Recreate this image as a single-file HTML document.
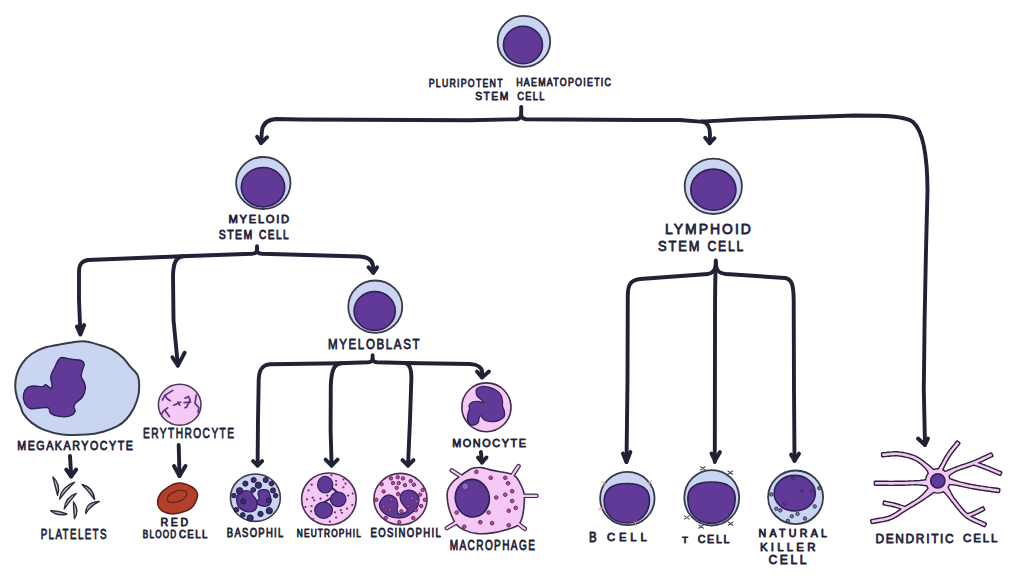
<!DOCTYPE html>
<html><head><meta charset="utf-8"><style>
html,body{margin:0;padding:0;background:#fff;width:1024px;height:576px;overflow:hidden}
svg{display:block}
</style></head><body>
<svg width="1024" height="576" viewBox="0 0 1024 576">
<rect width="1024" height="576" fill="#fff"/>
<path d="M521.2,107 L521.2,114.5 C521.2,117.5 520,118.8 516.5,119.2 L470,120.3 L300,119.5 L276,119 C267,119.5 262.5,124 261.8,132 L261.1,143" fill="none" stroke="#202236" stroke-width="3.9" stroke-linecap="round" stroke-linejoin="round"/>
<path d="M257.1,136.7 L261.1,143.2 L267.1,137.2" fill="none" stroke="#202236" stroke-width="3.9" stroke-linecap="round" stroke-linejoin="round"/>
<path d="M521.2,114.5 C521.2,117.5 522.5,118.8 526,119.2 L640,120 L680,120 L700,121.6 L720,120.6 L740,119.5 L780,118 L855,115.5 C885,115.5 905,116 913,122 C923,131 927.3,155 927.5,190 L926,250 L924.6,320 L923.8,390 L925,445" fill="none" stroke="#202236" stroke-width="3.9" stroke-linecap="round" stroke-linejoin="round"/>
<path d="M702,121.5 C707.5,122.5 710,127 710,134 L709.7,143.2" fill="none" stroke="#202236" stroke-width="3.9" stroke-linecap="round" stroke-linejoin="round"/>
<path d="M705.2,137.7 L709.7,143.2 L714.5,138.2" fill="none" stroke="#202236" stroke-width="3.9" stroke-linecap="round" stroke-linejoin="round"/>
<path d="M918.0,438.5 L925.0,445.0 L928.0,438.5" fill="none" stroke="#202236" stroke-width="3.9" stroke-linecap="round" stroke-linejoin="round"/>
<path d="M257,246.3 L257,250 C257,252.5 255.5,253.5 252,253.8 L182,256.3 L88,260 C81.5,261 79,264.5 79,272 L79,300 L80.4,334" fill="none" stroke="#202236" stroke-width="3.9" stroke-linecap="round" stroke-linejoin="round"/>
<path d="M76.9,326.5 L80.4,334.5 L84.2,325.0" fill="none" stroke="#202236" stroke-width="3.9" stroke-linecap="round" stroke-linejoin="round"/>
<path d="M183,256.2 C176.5,257 173.5,262 173,275 L173.5,320 L177.9,365.5" fill="none" stroke="#202236" stroke-width="3.9" stroke-linecap="round" stroke-linejoin="round"/>
<path d="M172.4,357.2 L177.9,365.7 L184.7,352.7" fill="none" stroke="#202236" stroke-width="3.9" stroke-linecap="round" stroke-linejoin="round"/>
<path d="M257,250 C257,252.5 258.5,253.5 262,253.8 L360,256.5 C369,257 372.5,261 373,266 L373.3,272.8" fill="none" stroke="#202236" stroke-width="3.9" stroke-linecap="round" stroke-linejoin="round"/>
<path d="M368.5,267.3 L373.3,272.8 L377.1,267.3" fill="none" stroke="#202236" stroke-width="3.9" stroke-linecap="round" stroke-linejoin="round"/>
<path d="M372.6,355.3 L372.6,358.5 C372.6,361 371.5,362 368,362.3 L340,363.3 L270,364.3 C262,365 259,370 258.7,380 L258,420 L257.6,465.6" fill="none" stroke="#202236" stroke-width="3.9" stroke-linecap="round" stroke-linejoin="round"/>
<path d="M253.1,461.1 L257.6,465.6 L262.1,461.1" fill="none" stroke="#202236" stroke-width="3.9" stroke-linecap="round" stroke-linejoin="round"/>
<path d="M341,363.3 C334,364.3 331.5,370 330.8,385 L330.6,430 L331.6,465.6" fill="none" stroke="#202236" stroke-width="3.9" stroke-linecap="round" stroke-linejoin="round"/>
<path d="M325.6,459.6 L331.6,465.6 L337.6,459.6" fill="none" stroke="#202236" stroke-width="3.9" stroke-linecap="round" stroke-linejoin="round"/>
<path d="M372.6,358.5 C372.6,361 373.7,362 377,362.3 L405,363 L470,364 C478,364.5 482,368 482.1,372 L482,377.5" fill="none" stroke="#202236" stroke-width="3.9" stroke-linecap="round" stroke-linejoin="round"/>
<path d="M477.0,371.5 L482.0,377.5 L489.0,371.5" fill="none" stroke="#202236" stroke-width="3.9" stroke-linecap="round" stroke-linejoin="round"/>
<path d="M405,363 C409.5,363.5 411.3,368 411.4,378 L410,420 L408,465.6" fill="none" stroke="#202236" stroke-width="3.9" stroke-linecap="round" stroke-linejoin="round"/>
<path d="M402.5,460.1 L408.0,465.6 L413.5,460.1" fill="none" stroke="#202236" stroke-width="3.9" stroke-linecap="round" stroke-linejoin="round"/>
<path d="M715.8,260.5 C716,268 715,272 708,274 L640,279 C631,280 628,284 627.8,295 L627.5,380 L626.5,462" fill="none" stroke="#202236" stroke-width="3.9" stroke-linecap="round" stroke-linejoin="round"/>
<path d="M622.9,453.5 L626.4,462.0 L630.4,452.0" fill="none" stroke="#202236" stroke-width="3.9" stroke-linecap="round" stroke-linejoin="round"/>
<path d="M715.8,266 C715,275 715,290 715,330 L714.8,462" fill="none" stroke="#202236" stroke-width="3.9" stroke-linecap="round" stroke-linejoin="round"/>
<path d="M711.5,453.6 L715.0,460.6 L720.0,452.1" fill="none" stroke="#202236" stroke-width="3.9" stroke-linecap="round" stroke-linejoin="round"/>
<path d="M715.8,262 C716,270 718,273 726,274 L785,278 C792,279 793.5,285 793.7,300 L794,390 L794.5,461" fill="none" stroke="#202236" stroke-width="3.9" stroke-linecap="round" stroke-linejoin="round"/>
<path d="M791.0,454.6 L794.5,460.6 L799.0,453.6" fill="none" stroke="#202236" stroke-width="3.9" stroke-linecap="round" stroke-linejoin="round"/>
<path d="M70,456 L71.2,476.5" fill="none" stroke="#202236" stroke-width="3.9" stroke-linecap="round" stroke-linejoin="round"/>
<path d="M66.2,469.5 L71.2,476.5 L76.2,469.5" fill="none" stroke="#202236" stroke-width="3.9" stroke-linecap="round" stroke-linejoin="round"/>
<path d="M178.7,445 L179.5,476" fill="none" stroke="#202236" stroke-width="3.9" stroke-linecap="round" stroke-linejoin="round"/>
<path d="M174.0,466.0 L179.5,476.0 L185.5,466.0" fill="none" stroke="#202236" stroke-width="3.9" stroke-linecap="round" stroke-linejoin="round"/>
<path d="M480.9,452 L482,462.5" fill="none" stroke="#202236" stroke-width="3.9" stroke-linecap="round" stroke-linejoin="round"/>
<path d="M478.0,457.5 L482.0,462.5 L486.5,457.5" fill="none" stroke="#202236" stroke-width="3.9" stroke-linecap="round" stroke-linejoin="round"/>
<ellipse cx="523.9" cy="41.4" rx="26.30" ry="25.50" fill="#cad6f1" stroke="#383a4a" stroke-width="1.8"/>
<ellipse cx="523" cy="45" rx="19.50" ry="18.70" fill="#613a97" stroke="#2e2058" stroke-width="1.6"/>
<ellipse cx="263.3" cy="183" rx="27.20" ry="26.00" fill="#cad6f1" stroke="#383a4a" stroke-width="1.8"/>
<ellipse cx="263" cy="187.2" rx="21.70" ry="19.70" fill="#613a97" stroke="#2e2058" stroke-width="1.6"/>
<ellipse cx="713.3" cy="186.3" rx="28.60" ry="27.70" fill="#cad6f1" stroke="#383a4a" stroke-width="1.8"/>
<ellipse cx="713.4" cy="189.7" rx="22.60" ry="20.60" fill="#613a97" stroke="#2e2058" stroke-width="1.6"/>
<ellipse cx="375.25" cy="306.7" rx="27.00" ry="26.20" fill="#cad6f1" stroke="#383a4a" stroke-width="1.8"/>
<ellipse cx="374.7" cy="311" rx="20.60" ry="19.40" fill="#613a97" stroke="#2e2058" stroke-width="1.6"/>
<ellipse cx="627.35" cy="498.55" rx="27.25" ry="26.65" fill="#cad6f1" stroke="#383a4a" stroke-width="1.8"/>
<path d="M604.2,500 C604.5,489 612,483.5 627,483.5 C642,483.5 649.5,489 649.5,500 C649.5,514 640,523 627,523 C613,523 604,514 604.2,500Z" fill="#613a97" stroke="#2e2058" stroke-width="1.6"/>
<ellipse cx="711.75" cy="497.85" rx="27.45" ry="27.75" fill="#cad6f1" stroke="#383a4a" stroke-width="1.8"/>
<path d="M687.8,498 C688,487 697,482 711.5,482 C726,482 735,487 735.2,498 C735.4,514 725,523.4 711.5,523.4 C698,523.4 687.6,514 687.8,498Z" fill="#613a97" stroke="#2e2058" stroke-width="1.6"/>
<ellipse cx="795.6" cy="497.3" rx="27.50" ry="26.80" fill="#cad6f1" stroke="#383a4a" stroke-width="1.8"/>
<ellipse cx="794.7" cy="493.2" rx="20.60" ry="17.80" fill="#613a97" stroke="#2e2058" stroke-width="1.6"/>
<g stroke="#d98a78" stroke-width="0.9" fill="none" stroke-linecap="round">
<path d="M0,0 L3,0 M3,0 L5,-1.5 M3,0 L5,1.5" transform="translate(601.7,481.1) rotate(45)"/>
<path d="M0,0 L3,0 M3,0 L5,-1.5 M3,0 L5,1.5" transform="translate(651.8,480) rotate(135)"/>
<path d="M0,0 L3,0 M3,0 L5,-1.5 M3,0 L5,1.5" transform="translate(598.7,509.4) rotate(340)"/>
<path d="M0,0 L3,0 M3,0 L5,-1.5 M3,0 L5,1.5" transform="translate(635.9,526) rotate(260)"/>
</g>
<g stroke="#4a4a56" stroke-width="1.1" fill="none" stroke-linecap="round">
<path d="M700.6,466.79999999999995 L705.1999999999999,470.0 M700.6,470.0 L705.1999999999999,466.79999999999995"/>
<path d="M727.95,471.0 L732.55,474.20000000000005 M727.95,474.20000000000005 L732.55,471.0"/>
<path d="M684.5,515.9 L689.0999999999999,519.1 M684.5,519.1 L689.0999999999999,515.9"/>
<path d="M698.8000000000001,525.0 L703.4,528.2 M698.8000000000001,528.2 L703.4,525.0"/>
<path d="M728.3000000000001,522.0 L732.9,525.2 M728.3000000000001,525.2 L732.9,522.0"/>
</g>
<g fill="#7880a6" stroke="#33334f" stroke-width="1">
<circle cx="771.2" cy="494.4" r="1.7"/>
<circle cx="819.3" cy="488.1" r="1.7"/>
<circle cx="814.75" cy="506.4" r="1.7"/>
<circle cx="776.3" cy="508.7" r="1.7"/>
<circle cx="780.3" cy="510.4" r="1.7"/>
<circle cx="791.8" cy="516.2" r="1.7"/>
<circle cx="797.55" cy="513.9" r="1.7"/>
<circle cx="805" cy="518.5" r="1.7"/>
<circle cx="787.8" cy="520.8" r="1.7"/>
</g>
<g fill="none" stroke="#3a2266" stroke-width="0.9">
<circle cx="793" cy="477.8" r="1.6"/>
<circle cx="802.1" cy="491" r="1.6"/>
<circle cx="811.9" cy="491" r="1.6"/>
<circle cx="784.9" cy="503.6" r="1.6"/>
</g>
<path d="M83.0,341.3 C89.2,341.4 94.7,343.6 99.5,345.0 C104.3,346.4 108.2,347.4 112.1,349.5 C116.0,351.6 120.0,354.8 123.0,357.7 C126.0,360.6 127.8,363.8 130.2,366.7 C132.6,369.6 135.9,371.8 137.4,374.8 C138.9,377.8 139.0,381.2 139.2,384.7 C139.3,388.2 139.2,391.7 138.3,395.6 C137.4,399.5 135.8,404.3 133.8,408.2 C131.8,412.1 129.2,416.0 126.5,419.0 C123.8,422.0 121.4,424.1 117.5,426.2 C113.6,428.3 108.2,430.3 103.1,431.7 C98.0,433.1 93.6,434.2 86.8,434.6 C80.0,435.1 69.3,435.2 62.2,434.4 C55.1,433.6 49.2,431.9 44.1,429.9 C39.0,427.9 35.0,425.3 31.5,422.6 C28.0,419.9 25.1,416.3 23.3,413.6 C21.5,410.9 21.7,409.1 20.6,406.4 C19.6,403.7 17.9,400.7 17.0,397.4 C16.1,394.1 15.2,390.4 15.2,386.5 C15.2,382.6 15.8,377.8 17.0,373.9 C18.2,370.0 20.0,366.4 22.4,363.1 C24.8,359.8 27.9,356.6 31.5,354.0 C35.1,351.4 39.0,349.3 44.1,347.7 C49.2,346.1 55.7,345.2 62.2,344.1 C68.7,343.0 76.8,341.2 83.0,341.3Z" fill="#cad6f1" stroke="#383a4a" stroke-width="2"/>
<path d="M61.7,357.5 C63.9,357.3 68.2,358.8 71.5,359.3 C74.8,359.8 79.1,359.7 81.2,360.5 C83.3,361.3 84.0,362.6 84.2,364.2 C84.4,365.8 82.9,368.2 82.4,370.2 C81.9,372.2 80.9,374.3 81.2,376.3 C81.5,378.3 83.5,380.4 84.2,382.4 C84.9,384.4 85.7,386.1 85.4,388.5 C85.1,390.9 84.0,394.6 82.4,397.0 C80.8,399.4 77.1,401.4 75.7,403.0 C74.3,404.6 74.0,405.3 73.9,406.7 C73.8,408.1 75.7,410.0 75.1,411.5 C74.5,413.0 72.8,415.0 70.2,415.8 C67.6,416.6 62.5,416.8 59.3,416.4 C56.1,416.0 52.6,414.8 50.8,413.4 C49.0,412.0 50.0,408.8 48.4,407.9 C46.8,407.0 44.1,407.8 41.1,407.9 C38.1,408.0 32.9,409.3 30.2,408.5 C27.5,407.7 25.8,405.3 24.7,403.0 C23.6,400.7 23.1,397.0 23.5,394.5 C23.9,392.0 25.4,389.2 27.1,387.8 C28.8,386.4 31.3,386.2 33.8,386.0 C36.3,385.8 40.3,386.8 42.3,386.6 C44.3,386.4 44.5,384.5 45.9,384.8 C47.3,385.1 49.8,388.5 50.8,388.5 C51.8,388.5 52.0,386.8 52.0,384.8 C52.0,382.8 50.4,379.1 50.8,376.3 C51.2,373.5 53.3,370.4 54.5,367.8 C55.7,365.2 56.9,362.2 58.1,360.5 C59.3,358.8 59.5,357.7 61.7,357.5Z" fill="#613a97" stroke="#2e2058" stroke-width="1.4"/>
<ellipse cx="179.7" cy="404.8" rx="21.30" ry="20.50" fill="#f6c9f7" stroke="#4a3550" stroke-width="1.5"/>
<path d="M172.8,390.4 L165.0,395.2 L162.4,400.0" fill="none" stroke="#5e3384" stroke-width="1.7" stroke-linecap="round" stroke-linejoin="round"/>
<path d="M165.0,395.2 L167.2,398.7 L170.2,400.8" fill="none" stroke="#5e3384" stroke-width="1.7" stroke-linecap="round" stroke-linejoin="round"/>
<path d="M173.7,405.2 L178.0,403.4 L180.6,402.1" fill="none" stroke="#5e3384" stroke-width="1.7" stroke-linecap="round" stroke-linejoin="round"/>
<path d="M178.0,402.1 L179.8,405.2" fill="none" stroke="#5e3384" stroke-width="1.7" stroke-linecap="round" stroke-linejoin="round"/>
<path d="M185.0,398.2 L188.5,396.5 L190.2,400.0 L186.7,406.9 L185.0,407.8" fill="none" stroke="#5e3384" stroke-width="1.7" stroke-linecap="round" stroke-linejoin="round"/>
<path d="M184.1,402.6 L190.6,402.1" fill="none" stroke="#5e3384" stroke-width="1.7" stroke-linecap="round" stroke-linejoin="round"/>
<path d="M196.3,394.8 L195.0,403.4 L198.9,407.8 L198.0,412.1" fill="none" stroke="#5e3384" stroke-width="1.7" stroke-linecap="round" stroke-linejoin="round"/>
<path d="M167.6,407.8 L163.3,411.2 L161.5,414.7" fill="none" stroke="#5e3384" stroke-width="1.7" stroke-linecap="round" stroke-linejoin="round"/>
<path d="M165.0,410.4 L167.6,413.9 L169.4,416.5" fill="none" stroke="#5e3384" stroke-width="1.7" stroke-linecap="round" stroke-linejoin="round"/>
<g fill="#b9bdd2" stroke="#2c2c3a" stroke-width="1.4" stroke-linejoin="round">
<path d="M52.9,477 Q60.8,483.9 57.6,495.3 Q55.2,486.2 52.9,477Z"/>
<path d="M59.5,499 Q61.4,486.9 74.5,482.2 Q66.4,490.2 59.5,499Z"/>
<path d="M82,484.5 Q93.5,487.4 94.6,499.5 Q89.0,491.4 82,484.5Z"/>
<path d="M64.2,508.9 Q65.6,496.9 76.3,493.4 Q70.0,500.9 64.2,508.9Z"/>
<path d="M73.5,501.9 Q79.6,510.3 74.5,518.75 Q73.6,510.3 73.5,501.9Z"/>
<path d="M50.6,510.8 Q57.4,516.6 67,514 Q59.3,510.9 50.6,510.8Z"/>
<path d="M85.7,513.6 Q85.5,501.9 99.3,501.4 Q90.2,505.6 85.7,513.6Z"/>
</g>
<path d="M182.1,483.3 C185.1,483.8 189.4,485.3 192.0,487.0 C194.6,488.7 196.7,491.3 197.4,493.6 C198.1,495.9 197.0,498.6 196.0,501.0 C195.0,503.4 193.8,506.2 191.2,508.1 C188.8,510.0 184.4,511.6 181.0,512.5 C177.6,513.5 173.9,514.2 170.6,513.8 C167.3,513.4 163.2,512.0 161.0,510.0 C158.8,508.0 157.6,504.8 157.6,502.0 C157.6,499.2 159.3,495.4 161.0,493.0 C162.7,490.6 165.4,489.0 167.6,487.5 C169.8,486.0 171.6,484.7 174.0,484.0 C176.4,483.3 179.1,482.8 182.1,483.3Z" fill="#b3402b" stroke="#5e2014" stroke-width="1.5"/>
<ellipse cx="177.1" cy="496.4" rx="10.3" ry="5.4" transform="rotate(-20 177.1 496.4)" fill="none" stroke="#6a2418" stroke-width="1.3"/>
<ellipse cx="255.4" cy="497.7" rx="24.90" ry="23.70" fill="#cad6f1" stroke="#383a4a" stroke-width="1.6"/>
<path d="M237.0,496.8 C237.6,495.4 238.7,493.3 240.3,492.3 C241.9,491.3 244.6,490.7 246.4,490.7 C248.2,490.7 250.3,491.5 251.4,492.3 C252.5,493.1 252.3,494.6 253.1,495.7 C253.8,496.8 255.2,497.8 255.9,499.0 C256.6,500.2 256.9,501.4 257.0,502.9 C257.1,504.4 257.0,506.5 256.4,507.9 C255.7,509.3 254.6,510.5 253.1,511.2 C251.6,511.9 249.4,512.1 247.6,511.8 C245.8,511.5 243.6,510.6 242.0,509.6 C240.4,508.6 239.0,507.2 238.1,505.7 C237.2,504.2 236.9,502.2 236.7,500.7 C236.5,499.2 236.4,498.2 237.0,496.8Z M258.7,491.2 C259.5,490.4 261.5,489.7 263.1,489.6 C264.7,489.5 266.9,489.6 268.1,490.7 C269.3,491.8 269.8,494.3 270.3,496.2 C270.8,498.1 271.3,500.2 270.9,501.8 C270.5,503.4 269.4,505.0 268.1,505.7 C266.8,506.4 264.7,506.4 263.1,506.2 C261.5,506.0 259.7,505.3 258.7,504.6 C257.7,503.9 256.9,502.8 257.0,501.8 C257.1,500.8 259.0,499.6 259.2,498.4 C259.4,497.2 258.2,495.8 258.1,494.6 C258.0,493.4 257.9,492.0 258.7,491.2Z" fill="#613a97" stroke="#2e2058" stroke-width="1.3"/>
<g fill="#3d2a72" stroke="#22183f" stroke-width="0.9">
<circle cx="253.7" cy="480" r="2.6"/>
<circle cx="245.4" cy="483.6" r="2.6"/>
<circle cx="258.4" cy="485.2" r="3.2"/>
<circle cx="265.7" cy="480" r="2.6"/>
<circle cx="271.4" cy="483.6" r="2.4"/>
<circle cx="239.6" cy="490.9" r="3.3"/>
<circle cx="253.2" cy="489.9" r="2.4"/>
<circle cx="273" cy="490.4" r="2.6"/>
<circle cx="233.9" cy="495.6" r="2.3"/>
<circle cx="275.6" cy="495.6" r="2.3"/>
<circle cx="243.3" cy="501.4" r="2.6"/>
<circle cx="268.8" cy="500.3" r="2.4"/>
<circle cx="236.5" cy="509.7" r="2.4"/>
<circle cx="242.8" cy="514.9" r="2.4"/>
<circle cx="250.1" cy="518" r="3.2"/>
<circle cx="260.5" cy="513.9" r="2.7"/>
<circle cx="269.3" cy="510.7" r="3.2"/>
</g>
<ellipse cx="328.9" cy="499" rx="27.30" ry="26.00" fill="#f6c8f6" stroke="#4a3050" stroke-width="1.6"/>
<path d="M331,487 L338,493 M331,498 L323,503" stroke="#2e2058" stroke-width="2" fill="none"/>
<g fill="#613a97" stroke="#2e2058" stroke-width="1.2"><ellipse cx="325.2" cy="484.7" rx="7.6" ry="8.3"/><ellipse cx="338.2" cy="499.3" rx="7.8" ry="7.3"/><ellipse cx="323.6" cy="510.2" rx="8.9" ry="8.1"/></g>
<g fill="#6a2f6e">
<circle cx="331.4" cy="475.3" r="1.1"/>
<circle cx="336.1" cy="481.0" r="1.1"/>
<circle cx="343.4" cy="479.5" r="1.1"/>
<circle cx="345.5" cy="483.6" r="1.1"/>
<circle cx="343.4" cy="487.3" r="1.1"/>
<circle cx="336.1" cy="484.7" r="1.1"/>
<circle cx="311.6" cy="484.7" r="1.1"/>
<circle cx="308.5" cy="490.4" r="1.1"/>
<circle cx="306.9" cy="499.3" r="1.1"/>
<circle cx="312.7" cy="497.7" r="1.1"/>
<circle cx="314.2" cy="500.3" r="1.1"/>
<circle cx="320.5" cy="498.7" r="1.1"/>
<circle cx="327.3" cy="495.6" r="1.1"/>
<circle cx="348.1" cy="495.6" r="1.1"/>
<circle cx="352.8" cy="493.5" r="1.1"/>
<circle cx="305.4" cy="507.1" r="1.1"/>
<circle cx="311.6" cy="506.0" r="1.1"/>
<circle cx="311.1" cy="511.3" r="1.1"/>
<circle cx="313.2" cy="519.1" r="1.1"/>
<circle cx="329.9" cy="521.7" r="1.1"/>
<circle cx="336.1" cy="517.5" r="1.1"/>
<circle cx="335.1" cy="512.3" r="1.1"/>
<circle cx="340.8" cy="510.2" r="1.1"/>
<circle cx="341.9" cy="512.8" r="1.1"/>
<circle cx="347.1" cy="508.7" r="1.1"/>
<circle cx="352.3" cy="505.0" r="1.1"/>
</g>
<ellipse cx="400.5" cy="499.2" rx="26.60" ry="25.80" fill="#f6c8f6" stroke="#4a3050" stroke-width="1.6"/>
<path d="M381.6,499.3 C383.1,497.5 386.5,495.1 388.8,494.9 C391.2,494.7 394.1,496.6 395.6,498.2 C397.1,499.8 397.4,502.4 397.7,504.5 C398.0,506.6 396.9,509.2 397.2,510.7 C397.4,512.3 398.1,513.5 399.3,513.9 C400.5,514.2 403.2,513.5 404.5,512.8 C405.8,512.1 407.6,511.4 407.1,509.7 C406.6,508.0 402.5,504.7 401.4,502.4 C400.2,500.1 400.0,498.0 400.3,496.1 C400.7,494.3 401.9,492.5 403.4,491.5 C405.0,490.4 407.6,489.8 409.7,490.1 C411.8,490.4 414.4,491.5 415.9,493.0 C417.5,494.5 418.9,496.8 419.1,499.3 C419.2,501.7 418.2,505.3 417.0,507.6 C415.8,509.9 413.7,511.3 411.8,512.8 C409.9,514.4 408.0,516.1 405.5,517.0 C403.1,517.9 400.0,518.2 397.2,518.0 C394.4,517.9 391.3,517.0 388.8,515.9 C386.4,514.9 384.2,513.5 382.6,511.8 C381.0,510.0 379.6,507.6 379.5,505.5 C379.3,503.4 380.0,501.0 381.6,499.3Z" fill="#613a97" stroke="#2e2058" stroke-width="1.2"/>
<g fill="#a5559a" stroke="#70265c" stroke-width="1">
<circle cx="390.9" cy="478.4" r="1.7"/>
<circle cx="397.7" cy="477.2" r="1.7"/>
<circle cx="402.9" cy="478.4" r="1.7"/>
<circle cx="381.6" cy="484.2" r="1.7"/>
<circle cx="393.0" cy="483.1" r="1.7"/>
<circle cx="398.7" cy="483.1" r="1.7"/>
<circle cx="405.0" cy="485.2" r="1.7"/>
<circle cx="410.7" cy="481.0" r="1.7"/>
<circle cx="413.9" cy="484.7" r="1.7"/>
<circle cx="396.7" cy="487.8" r="1.7"/>
<circle cx="383.6" cy="491.5" r="1.7"/>
<circle cx="398.2" cy="494.1" r="1.7"/>
<circle cx="422.7" cy="489.9" r="1.7"/>
<circle cx="420.1" cy="494.6" r="1.7"/>
<circle cx="376.3" cy="499.8" r="1.7"/>
<circle cx="424.8" cy="499.8" r="1.7"/>
<circle cx="421.2" cy="506.0" r="1.7"/>
<circle cx="415.9" cy="510.2" r="1.7"/>
<circle cx="401.4" cy="511.3" r="1.7"/>
<circle cx="385.7" cy="518.0" r="1.7"/>
<circle cx="399.3" cy="522.2" r="1.7"/>
<circle cx="413.3" cy="518.0" r="1.7"/>
<circle cx="390.9" cy="499.3" r="1.7"/>
<circle cx="383.6" cy="506.6" r="1.7"/>
<circle cx="389.9" cy="509.7" r="1.7"/>
<circle cx="411.8" cy="498.2" r="1.7"/>
<circle cx="417.0" cy="501.4" r="1.7"/>
<circle cx="408.1" cy="506.0" r="1.7"/>
</g>
<ellipse cx="486.4" cy="407.3" rx="24.6" ry="24.4" fill="#f6c8f6" stroke="#3e2e48" stroke-width="1.6"/>
<path d="M476.9,388.7 C477.8,387.8 479.6,386.7 481.7,386.5 C483.8,386.3 487.0,386.8 489.5,387.4 C492.0,388.0 494.6,389.2 496.5,390.4 C498.4,391.6 499.8,393.1 500.8,394.8 C501.8,396.5 502.2,398.9 502.5,400.8 C502.8,402.7 502.2,404.3 502.5,406.0 C502.8,407.7 504.0,409.5 504.3,411.2 C504.6,413.0 505.0,415.1 504.3,416.5 C503.6,417.9 501.6,419.0 499.9,419.9 C498.2,420.8 496.2,421.5 493.9,421.7 C491.6,421.9 487.9,421.4 486.0,420.8 C484.1,420.2 483.5,419.1 482.6,418.2 C481.7,417.3 481.4,415.6 480.8,415.6 C480.2,415.6 479.5,417.1 479.1,418.2 C478.7,419.3 479.1,421.4 478.2,422.5 C477.3,423.6 475.3,424.8 473.9,425.1 C472.4,425.4 470.6,425.3 469.5,424.3 C468.4,423.3 467.6,421.0 467.4,419.1 C467.2,417.2 467.8,414.8 468.2,413.0 C468.6,411.2 469.4,409.9 469.5,408.6 C469.6,407.3 468.7,406.3 469.1,405.2 C469.6,404.1 470.7,402.8 472.2,402.1 C473.7,401.5 476.3,401.2 478.2,401.3 C480.1,401.4 482.8,402.8 483.4,402.6 C484.0,402.4 482.7,401.0 481.7,400.0 C480.7,399.0 478.3,397.8 477.4,396.5 C476.5,395.2 476.2,393.5 476.1,392.2 C476.0,390.9 476.0,389.6 476.9,388.7Z" fill="#613a97" stroke="#2e2058" stroke-width="1.2"/>
<path d="M463.6,478.1 L451.8,470.4 M511.5,476.7 L518.5,466.2 M521.2,495.8 L536.5,495.8 M515.7,521.8 L524.7,528.8 M457.4,521.8 L446.9,528.1 " stroke="#3e2e48" stroke-width="4.6" stroke-linecap="round" fill="none"/>
<path d="M459.4,476.7 C462.7,474.4 468.2,470.1 471.9,468.6 C475.6,467.1 478.2,467.3 481.7,467.6 C485.1,467.9 488.1,469.4 492.8,470.4 C497.4,471.4 505.6,472.6 509.4,473.6 C513.3,474.7 513.8,474.9 515.7,476.7 C517.5,478.4 519.2,481.5 520.6,484.3 C521.9,487.1 523.4,489.7 524.0,493.3 C524.6,496.9 524.4,501.7 524.0,505.8 C523.7,510.0 523.0,515.1 521.9,518.3 C520.9,521.6 520.6,523.3 517.8,525.3 C515.0,527.2 509.4,528.9 505.3,530.1 C501.1,531.4 497.4,532.3 492.8,532.9 C488.1,533.5 482.2,534.1 477.5,533.6 C472.8,533.1 467.9,531.8 464.3,530.1 C460.7,528.5 458.3,526.8 456.0,523.9 C453.7,521.0 451.8,516.5 450.4,512.8 C449.0,509.1 448.1,505.4 447.6,501.7 C447.2,498.0 446.8,493.8 447.6,490.6 C448.4,487.3 450.5,484.5 452.5,482.2 C454.5,479.9 456.2,478.9 459.4,476.7Z" fill="#f6c8f6" stroke="#3e2e48" stroke-width="1.6"/>
<path d="M463.6,478.1 L451.8,470.4 M511.5,476.7 L518.5,466.2 M521.2,495.8 L536.5,495.8 M515.7,521.8 L524.7,528.8 M457.4,521.8 L446.9,528.1 " stroke="#f6c8f6" stroke-width="2.2" stroke-linecap="round" fill="none"/>
<ellipse cx="472.3" cy="498.2" rx="17" ry="18.8" fill="#613a97" stroke="#2e2058" stroke-width="1.6" transform="rotate(-8 472.3 498.2)"/>
<circle cx="465.3" cy="486.4" r="1.9" fill="#7b55a8" stroke="#c9a8e0" stroke-width="0.7"/>
<g fill="#a5559a" stroke="#70265c" stroke-width="1">
<circle cx="476.4" cy="471.8" r="1.8"/>
<circle cx="490.7" cy="477.8" r="1.8"/>
<circle cx="505.3" cy="477.8" r="1.8"/>
<circle cx="508.1" cy="483.3" r="1.8"/>
<circle cx="512.2" cy="491.25" r="1.8"/>
<circle cx="505.3" cy="494.7" r="1.8"/>
<circle cx="496.25" cy="497.5" r="1.8"/>
<circle cx="512.2" cy="501" r="1.8"/>
<circle cx="515.7" cy="507.9" r="1.8"/>
<circle cx="508.75" cy="510.7" r="1.8"/>
<circle cx="488.6" cy="512.5" r="1.8"/>
<circle cx="456.7" cy="512.5" r="1.8"/>
<circle cx="480.3" cy="522.2" r="1.8"/>
<circle cx="492.1" cy="523.2" r="1.8"/>
<circle cx="508.75" cy="525.3" r="1.8"/>
<circle cx="464.3" cy="526.7" r="1.8"/>
</g>
<path d="M942.3,477.7 L941.5,477.1 L940.7,476.5 L939.9,475.9 L939.1,475.3 L938.3,474.6 L937.5,474.0 L936.7,473.3 L936.0,472.7 L935.3,472.1 L934.6,471.5 L933.9,470.9 L933.3,470.3 L932.8,469.8 L932.3,469.4 L931.9,469.0 L931.5,468.6 L931.1,468.2 L930.7,467.7 L930.3,467.3 L929.8,466.9 L929.3,466.5 L928.7,466.0 L928.1,465.5 L927.4,465.0 L926.6,464.4 L925.8,463.8 L925.0,463.2 L924.1,462.5 L923.1,461.7 L922.2,461.0 L921.2,460.2 L920.1,459.5 L919.0,458.7 L917.9,458.1 L916.7,457.4 L915.5,456.8 L914.2,456.3 L913.0,455.8 L911.6,455.4 L910.2,454.9 L908.8,454.5 L907.4,454.2 L906.0,453.8 L904.5,453.5 L903.0,453.2 L901.6,453.0 L900.2,452.8 L898.8,452.7 L897.3,452.5 L895.9,452.5 L894.5,452.5 L893.1,452.6 L891.7,452.6 L890.4,452.8 L889.0,452.9 L887.6,453.0 L886.3,453.2 L884.9,453.3 L883.6,453.4 L882.2,453.5 L882.4,456.1 L883.8,456.0 L885.1,455.9 L886.5,455.7 L887.9,455.6 L889.2,455.5 L890.6,455.3 L891.9,455.2 L893.3,455.2 L894.6,455.1 L895.9,455.1 L897.2,455.1 L898.5,455.2 L899.8,455.4 L901.2,455.6 L902.6,455.8 L904.0,456.1 L905.4,456.4 L906.8,456.7 L908.2,457.0 L909.5,457.4 L910.8,457.8 L912.1,458.3 L913.3,458.7 L914.4,459.2 L915.5,459.7 L916.6,460.3 L917.6,460.9 L918.6,461.6 L919.6,462.3 L920.6,463.0 L921.5,463.8 L922.4,464.5 L923.2,465.3 L924.0,466.0 L924.7,466.7 L925.3,467.4 L925.9,468.0 L926.3,468.5 L926.7,469.0 L927.0,469.4 L927.3,469.8 L927.5,470.2 L927.8,470.6 L928.0,471.1 L928.2,471.6 L928.5,472.2 L928.8,472.8 L929.2,473.5 L929.6,474.2 L929.9,475.0 L930.3,475.8 L930.6,476.6 L931.0,477.5 L931.4,478.4 L931.7,479.3 L932.0,480.3 L932.4,481.2 L932.7,482.2 L933.0,483.2 L933.3,484.1Z M943.2,481.9 L943.0,481.1 L942.8,480.3 L942.6,479.6 L942.4,478.8 L942.3,478.1 L942.1,477.4 L942.0,476.7 L941.9,476.0 L941.8,475.3 L941.7,474.7 L941.7,474.0 L941.7,473.4 L941.7,472.8 L941.8,472.2 L941.8,471.6 L942.0,471.0 L942.1,470.5 L942.2,469.9 L942.4,469.3 L942.6,468.7 L942.9,468.1 L943.1,467.4 L943.5,466.7 L943.8,466.0 L944.3,465.2 L944.7,464.3 L945.2,463.4 L945.7,462.5 L946.2,461.5 L946.7,460.5 L947.3,459.6 L947.9,458.6 L948.4,457.6 L949.0,456.6 L949.7,455.6 L950.3,454.7 L950.9,453.7 L951.6,452.8 L952.3,451.9 L953.0,450.9 L953.8,450.0 L954.6,449.1 L955.3,448.1 L956.1,447.2 L956.9,446.2 L957.7,445.2 L958.4,444.3 L959.2,443.3 L957.2,441.7 L956.4,442.7 L955.7,443.6 L954.9,444.6 L954.1,445.5 L953.3,446.5 L952.5,447.4 L951.8,448.4 L951.0,449.3 L950.2,450.3 L949.5,451.3 L948.8,452.2 L948.1,453.2 L947.5,454.2 L946.8,455.2 L946.2,456.2 L945.6,457.2 L945.0,458.3 L944.5,459.3 L943.9,460.3 L943.4,461.2 L942.9,462.2 L942.4,463.1 L942.0,464.0 L941.5,464.8 L941.1,465.5 L940.7,466.2 L940.3,466.8 L940.0,467.4 L939.6,468.0 L939.3,468.6 L938.9,469.1 L938.6,469.7 L938.2,470.2 L937.9,470.8 L937.5,471.4 L937.2,472.0 L936.8,472.7 L936.4,473.4 L936.0,474.1 L935.7,474.8 L935.3,475.5 L934.9,476.1 L934.5,476.8 L934.1,477.5 L933.7,478.1 L933.3,478.7 L932.9,479.3 L932.4,479.9Z M941.1,485.3 L941.8,484.3 L942.4,483.4 L943.0,482.5 L943.6,481.6 L944.2,480.7 L944.9,479.8 L945.5,479.0 L946.1,478.2 L946.8,477.4 L947.4,476.7 L948.1,476.0 L948.8,475.4 L949.4,474.8 L950.1,474.2 L950.8,473.7 L951.4,473.2 L952.1,472.8 L952.8,472.4 L953.5,471.9 L954.2,471.5 L955.0,471.1 L955.9,470.7 L956.8,470.3 L957.9,469.8 L959.0,469.4 L960.1,469.0 L961.4,468.5 L962.7,468.1 L964.0,467.7 L965.4,467.2 L966.8,466.8 L968.3,466.3 L969.8,465.8 L971.2,465.2 L972.7,464.7 L974.2,464.1 L975.6,463.5 L977.1,462.9 L978.6,462.2 L980.1,461.6 L981.6,460.9 L983.1,460.2 L984.6,459.5 L986.1,458.7 L987.7,458.0 L989.2,457.3 L990.7,456.6 L992.2,455.9 L991.1,453.6 L989.6,454.3 L988.1,455.0 L986.6,455.7 L985.0,456.4 L983.5,457.1 L982.0,457.8 L980.5,458.5 L979.0,459.2 L977.5,459.9 L976.1,460.5 L974.6,461.1 L973.2,461.7 L971.8,462.3 L970.4,462.8 L968.9,463.3 L967.5,463.8 L966.0,464.3 L964.6,464.7 L963.2,465.2 L961.9,465.6 L960.5,466.1 L959.3,466.5 L958.0,467.0 L956.9,467.4 L955.8,467.9 L954.8,468.2 L953.9,468.6 L953.0,468.9 L952.2,469.3 L951.4,469.6 L950.6,469.9 L949.8,470.2 L949.0,470.6 L948.2,470.9 L947.3,471.3 L946.4,471.7 L945.4,472.1 L944.5,472.5 L943.5,472.9 L942.5,473.4 L941.5,473.8 L940.5,474.3 L939.5,474.7 L938.5,475.1 L937.5,475.5 L936.5,475.9 L935.5,476.2 L934.5,476.5Z M973.2,464.2 L974.3,464.6 L975.4,465.0 L976.5,465.3 L977.6,465.7 L978.7,466.1 L979.7,466.5 L980.8,466.8 L981.9,467.2 L983.0,467.7 L984.1,468.1 L985.2,468.5 L986.3,468.9 L987.4,469.4 L988.6,469.8 L989.7,470.3 L990.8,470.8 L992.0,471.2 L993.2,471.7 L994.3,472.2 L995.5,472.7 L996.7,473.2 L997.8,473.7 L999.0,474.2 L1000.1,474.6 L1001.1,472.4 L999.9,471.9 L998.7,471.5 L997.6,471.0 L996.4,470.5 L995.2,470.0 L994.1,469.5 L992.9,469.0 L991.8,468.5 L990.6,468.1 L989.5,467.6 L988.3,467.1 L987.2,466.7 L986.1,466.3 L984.9,465.8 L983.8,465.4 L982.7,465.0 L981.7,464.6 L980.6,464.2 L979.5,463.8 L978.4,463.4 L977.4,462.9 L976.3,462.5 L975.2,462.1 L974.2,461.6Z M936.7,475.5 L936.0,475.9 L935.3,476.3 L934.7,476.6 L934.2,477.0 L933.6,477.3 L933.1,477.6 L932.6,477.9 L932.1,478.2 L931.5,478.5 L930.9,478.8 L930.2,479.1 L929.4,479.4 L928.5,479.7 L927.5,480.0 L926.4,480.2 L925.2,480.5 L924.0,480.7 L922.8,480.9 L921.5,481.0 L920.2,481.2 L918.9,481.3 L917.5,481.4 L916.2,481.5 L914.9,481.5 L913.6,481.6 L912.4,481.6 L911.1,481.6 L909.9,481.7 L908.6,481.7 L907.3,481.8 L906.0,481.8 L904.6,481.9 L903.2,481.9 L901.8,482.0 L900.2,482.0 L898.6,482.0 L896.9,482.0 L895.1,482.0 L893.2,482.1 L891.3,482.1 L889.3,482.1 L887.3,482.0 L885.2,482.0 L883.1,482.0 L881.1,482.0 L879.0,482.0 L877.0,482.0 L875.0,482.0 L875.0,484.6 L877.0,484.6 L879.0,484.6 L881.1,484.6 L883.1,484.6 L885.2,484.6 L887.3,484.6 L889.3,484.7 L891.3,484.7 L893.2,484.7 L895.1,484.6 L896.9,484.6 L898.6,484.6 L900.3,484.6 L901.8,484.6 L903.3,484.5 L904.7,484.5 L906.1,484.4 L907.4,484.4 L908.7,484.3 L910.0,484.3 L911.2,484.2 L912.5,484.2 L913.7,484.2 L915.0,484.1 L916.3,484.1 L917.6,484.2 L918.9,484.2 L920.2,484.3 L921.5,484.5 L922.8,484.6 L924.1,484.8 L925.3,484.9 L926.5,485.1 L927.7,485.3 L928.8,485.4 L929.9,485.6 L930.9,485.7 L931.9,485.8 L932.7,485.8 L933.6,485.9 L934.4,485.9 L935.1,485.9 L935.8,486.0 L936.5,486.0 L937.1,486.0 L937.7,486.1 L938.3,486.2 L938.9,486.3Z M938.0,486.4 L938.8,486.2 L939.6,485.9 L940.2,485.6 L940.7,485.4 L941.1,485.2 L941.3,485.0 L941.6,484.8 L941.9,484.6 L942.4,484.4 L943.2,484.2 L944.2,484.0 L945.4,483.9 L947.0,483.8 L948.8,483.8 L950.7,483.9 L952.9,484.1 L955.2,484.4 L957.5,484.8 L959.9,485.3 L962.3,485.9 L964.8,486.4 L967.2,486.9 L969.5,487.4 L971.8,487.9 L974.0,488.3 L976.3,488.6 L978.5,489.0 L980.8,489.3 L983.0,489.7 L985.3,490.0 L987.5,490.3 L989.8,490.6 L992.0,491.0 L994.3,491.3 L996.5,491.6 L998.8,491.9 L999.2,489.4 L996.9,489.0 L994.7,488.7 L992.4,488.4 L990.2,488.1 L987.9,487.8 L985.6,487.4 L983.4,487.1 L981.2,486.8 L978.9,486.4 L976.7,486.1 L974.5,485.7 L972.3,485.3 L970.0,484.9 L967.7,484.4 L965.3,483.9 L962.9,483.3 L960.5,482.8 L958.1,482.1 L955.9,481.4 L953.7,480.7 L951.6,479.9 L949.7,479.2 L948.0,478.5 L946.5,477.8 L945.1,477.3 L943.9,476.9 L942.9,476.5 L941.9,476.3 L941.0,476.1 L940.2,476.1 L939.5,476.0 L939.0,476.0 L938.6,475.9 L938.3,475.8 L938.1,475.6 L937.6,475.4Z M933.3,477.7 L933.0,478.6 L932.6,479.6 L932.3,480.5 L932.0,481.4 L931.7,482.2 L931.4,483.0 L931.1,483.8 L930.8,484.6 L930.4,485.4 L930.0,486.1 L929.6,487.0 L929.1,487.8 L928.5,488.7 L927.9,489.6 L927.2,490.5 L926.4,491.4 L925.6,492.3 L924.8,493.2 L923.9,494.2 L923.0,495.1 L922.0,496.0 L921.1,496.8 L920.1,497.7 L919.0,498.5 L918.0,499.3 L916.9,500.1 L915.7,500.8 L914.5,501.6 L913.3,502.3 L912.0,503.0 L910.8,503.8 L909.5,504.5 L908.3,505.3 L907.0,506.0 L905.7,506.7 L904.5,507.5 L903.2,508.3 L902.0,509.1 L900.8,509.9 L899.7,510.7 L898.5,511.5 L897.3,512.3 L896.2,513.1 L895.0,513.8 L893.8,514.5 L892.6,515.2 L891.3,515.8 L890.0,516.4 L888.6,516.9 L887.2,517.3 L885.8,517.7 L884.2,518.0 L882.7,518.4 L881.1,518.6 L879.5,518.9 L877.9,519.2 L876.3,519.5 L874.7,519.8 L873.0,520.1 L871.4,520.4 L872.0,522.9 L873.5,522.6 L875.1,522.3 L876.7,522.0 L878.3,521.8 L880.0,521.5 L881.6,521.2 L883.2,520.9 L884.8,520.6 L886.4,520.2 L887.9,519.8 L889.5,519.3 L890.9,518.8 L892.4,518.2 L893.7,517.5 L895.1,516.8 L896.3,516.1 L897.6,515.3 L898.8,514.5 L900.0,513.7 L901.2,512.8 L902.3,512.0 L903.5,511.2 L904.7,510.5 L905.8,509.7 L907.1,509.0 L908.3,508.2 L909.6,507.5 L910.8,506.8 L912.1,506.0 L913.4,505.3 L914.6,504.5 L915.9,503.8 L917.1,503.0 L918.3,502.3 L919.5,501.5 L920.6,500.8 L921.8,500.0 L922.9,499.2 L924.0,498.5 L925.2,497.7 L926.3,497.0 L927.3,496.2 L928.4,495.5 L929.5,494.8 L930.5,494.0 L931.5,493.3 L932.5,492.6 L933.4,491.9 L934.4,491.2 L935.2,490.5 L936.1,489.7 L936.8,489.0 L937.6,488.3 L938.3,487.6 L939.0,487.0 L939.6,486.3 L940.3,485.7 L940.9,485.2 L941.6,484.6 L942.3,484.1Z M905.6,507.3 L904.8,507.1 L904.0,506.8 L903.2,506.6 L902.4,506.3 L901.6,506.0 L900.8,505.8 L900.0,505.5 L899.1,505.2 L898.3,505.0 L897.4,504.7 L896.6,504.4 L895.7,504.2 L894.8,503.9 L893.8,503.7 L892.9,503.5 L891.9,503.3 L891.0,503.1 L890.0,502.9 L889.0,502.7 L888.0,502.5 L887.1,502.3 L886.1,502.1 L885.1,501.9 L884.2,501.7 L883.7,504.1 L884.7,504.3 L885.6,504.5 L886.6,504.7 L887.6,504.9 L888.6,505.1 L889.5,505.2 L890.5,505.4 L891.4,505.6 L892.4,505.8 L893.3,506.1 L894.2,506.3 L895.1,506.5 L895.9,506.7 L896.7,507.0 L897.6,507.2 L898.4,507.5 L899.2,507.8 L900.0,508.1 L900.8,508.4 L901.5,508.7 L902.3,509.0 L903.1,509.3 L903.9,509.6 L904.7,509.9Z M933.8,484.6 L934.7,485.2 L935.6,485.7 L936.5,486.2 L937.4,486.7 L938.3,487.3 L939.1,487.8 L940.0,488.3 L940.8,488.9 L941.6,489.4 L942.5,490.0 L943.3,490.7 L944.1,491.4 L944.8,492.1 L945.6,492.8 L946.3,493.5 L947.0,494.4 L947.7,495.2 L948.4,496.1 L949.1,497.0 L949.9,497.9 L950.6,498.9 L951.4,499.9 L952.2,501.0 L953.1,502.1 L954.0,503.2 L954.9,504.4 L955.9,505.6 L956.9,506.9 L957.9,508.3 L959.0,509.6 L960.1,510.9 L961.3,512.2 L962.5,513.5 L963.8,514.7 L965.0,515.9 L966.4,517.0 L967.8,518.0 L969.2,518.9 L970.7,519.7 L972.2,520.5 L973.7,521.3 L975.3,522.0 L976.9,522.7 L978.4,523.3 L980.0,524.0 L981.5,524.7 L983.0,525.4 L984.5,526.1 L985.7,523.8 L984.1,523.0 L982.6,522.3 L981.0,521.6 L979.5,520.9 L977.9,520.3 L976.4,519.6 L974.8,518.9 L973.4,518.2 L971.9,517.5 L970.5,516.7 L969.2,515.8 L967.9,514.9 L966.7,513.9 L965.5,512.8 L964.4,511.7 L963.2,510.5 L962.1,509.2 L961.0,507.9 L960.0,506.6 L958.9,505.3 L957.9,504.0 L957.0,502.8 L956.0,501.6 L955.1,500.5 L954.3,499.4 L953.5,498.4 L952.8,497.3 L952.2,496.3 L951.6,495.3 L951.0,494.3 L950.5,493.3 L950.0,492.3 L949.5,491.3 L948.9,490.3 L948.4,489.3 L947.8,488.3 L947.3,487.3 L946.7,486.4 L946.2,485.4 L945.6,484.5 L945.1,483.6 L944.6,482.6 L944.1,481.7 L943.6,480.8 L943.1,479.9 L942.7,479.0 L942.3,478.1 L941.8,477.2Z M967.7,517.2 L968.3,516.9 L969.0,516.6 L969.7,516.3 L970.3,516.0 L971.0,515.8 L971.7,515.5 L972.4,515.2 L973.0,514.9 L973.7,514.7 L974.4,514.4 L975.1,514.1 L975.8,513.8 L976.5,513.5 L977.2,513.1 L977.9,512.8 L978.6,512.5 L979.3,512.1 L979.9,511.8 L980.6,511.4 L981.3,511.1 L982.0,510.7 L982.7,510.4 L983.3,510.0 L984.0,509.7 L982.9,507.5 L982.3,507.9 L981.6,508.2 L980.9,508.6 L980.2,508.9 L979.5,509.3 L978.8,509.6 L978.2,510.0 L977.5,510.3 L976.8,510.6 L976.2,511.0 L975.5,511.3 L974.8,511.6 L974.2,511.9 L973.5,512.2 L972.8,512.4 L972.2,512.7 L971.5,513.0 L970.8,513.2 L970.1,513.5 L969.4,513.7 L968.7,514.0 L968.0,514.2 L967.3,514.4 L966.6,514.6Z M926.3,480.9 A11.5,11.5 0 1 0 949.3,480.9 A11.5,11.5 0 1 0 926.3,480.9Z " fill="#2a2236" stroke="#2a2236" stroke-width="2.8" stroke-linejoin="round"/>
<path d="M942.3,477.7 L941.5,477.1 L940.7,476.5 L939.9,475.9 L939.1,475.3 L938.3,474.6 L937.5,474.0 L936.7,473.3 L936.0,472.7 L935.3,472.1 L934.6,471.5 L933.9,470.9 L933.3,470.3 L932.8,469.8 L932.3,469.4 L931.9,469.0 L931.5,468.6 L931.1,468.2 L930.7,467.7 L930.3,467.3 L929.8,466.9 L929.3,466.5 L928.7,466.0 L928.1,465.5 L927.4,465.0 L926.6,464.4 L925.8,463.8 L925.0,463.2 L924.1,462.5 L923.1,461.7 L922.2,461.0 L921.2,460.2 L920.1,459.5 L919.0,458.7 L917.9,458.1 L916.7,457.4 L915.5,456.8 L914.2,456.3 L913.0,455.8 L911.6,455.4 L910.2,454.9 L908.8,454.5 L907.4,454.2 L906.0,453.8 L904.5,453.5 L903.0,453.2 L901.6,453.0 L900.2,452.8 L898.8,452.7 L897.3,452.5 L895.9,452.5 L894.5,452.5 L893.1,452.6 L891.7,452.6 L890.4,452.8 L889.0,452.9 L887.6,453.0 L886.3,453.2 L884.9,453.3 L883.6,453.4 L882.2,453.5 L882.4,456.1 L883.8,456.0 L885.1,455.9 L886.5,455.7 L887.9,455.6 L889.2,455.5 L890.6,455.3 L891.9,455.2 L893.3,455.2 L894.6,455.1 L895.9,455.1 L897.2,455.1 L898.5,455.2 L899.8,455.4 L901.2,455.6 L902.6,455.8 L904.0,456.1 L905.4,456.4 L906.8,456.7 L908.2,457.0 L909.5,457.4 L910.8,457.8 L912.1,458.3 L913.3,458.7 L914.4,459.2 L915.5,459.7 L916.6,460.3 L917.6,460.9 L918.6,461.6 L919.6,462.3 L920.6,463.0 L921.5,463.8 L922.4,464.5 L923.2,465.3 L924.0,466.0 L924.7,466.7 L925.3,467.4 L925.9,468.0 L926.3,468.5 L926.7,469.0 L927.0,469.4 L927.3,469.8 L927.5,470.2 L927.8,470.6 L928.0,471.1 L928.2,471.6 L928.5,472.2 L928.8,472.8 L929.2,473.5 L929.6,474.2 L929.9,475.0 L930.3,475.8 L930.6,476.6 L931.0,477.5 L931.4,478.4 L931.7,479.3 L932.0,480.3 L932.4,481.2 L932.7,482.2 L933.0,483.2 L933.3,484.1Z M943.2,481.9 L943.0,481.1 L942.8,480.3 L942.6,479.6 L942.4,478.8 L942.3,478.1 L942.1,477.4 L942.0,476.7 L941.9,476.0 L941.8,475.3 L941.7,474.7 L941.7,474.0 L941.7,473.4 L941.7,472.8 L941.8,472.2 L941.8,471.6 L942.0,471.0 L942.1,470.5 L942.2,469.9 L942.4,469.3 L942.6,468.7 L942.9,468.1 L943.1,467.4 L943.5,466.7 L943.8,466.0 L944.3,465.2 L944.7,464.3 L945.2,463.4 L945.7,462.5 L946.2,461.5 L946.7,460.5 L947.3,459.6 L947.9,458.6 L948.4,457.6 L949.0,456.6 L949.7,455.6 L950.3,454.7 L950.9,453.7 L951.6,452.8 L952.3,451.9 L953.0,450.9 L953.8,450.0 L954.6,449.1 L955.3,448.1 L956.1,447.2 L956.9,446.2 L957.7,445.2 L958.4,444.3 L959.2,443.3 L957.2,441.7 L956.4,442.7 L955.7,443.6 L954.9,444.6 L954.1,445.5 L953.3,446.5 L952.5,447.4 L951.8,448.4 L951.0,449.3 L950.2,450.3 L949.5,451.3 L948.8,452.2 L948.1,453.2 L947.5,454.2 L946.8,455.2 L946.2,456.2 L945.6,457.2 L945.0,458.3 L944.5,459.3 L943.9,460.3 L943.4,461.2 L942.9,462.2 L942.4,463.1 L942.0,464.0 L941.5,464.8 L941.1,465.5 L940.7,466.2 L940.3,466.8 L940.0,467.4 L939.6,468.0 L939.3,468.6 L938.9,469.1 L938.6,469.7 L938.2,470.2 L937.9,470.8 L937.5,471.4 L937.2,472.0 L936.8,472.7 L936.4,473.4 L936.0,474.1 L935.7,474.8 L935.3,475.5 L934.9,476.1 L934.5,476.8 L934.1,477.5 L933.7,478.1 L933.3,478.7 L932.9,479.3 L932.4,479.9Z M941.1,485.3 L941.8,484.3 L942.4,483.4 L943.0,482.5 L943.6,481.6 L944.2,480.7 L944.9,479.8 L945.5,479.0 L946.1,478.2 L946.8,477.4 L947.4,476.7 L948.1,476.0 L948.8,475.4 L949.4,474.8 L950.1,474.2 L950.8,473.7 L951.4,473.2 L952.1,472.8 L952.8,472.4 L953.5,471.9 L954.2,471.5 L955.0,471.1 L955.9,470.7 L956.8,470.3 L957.9,469.8 L959.0,469.4 L960.1,469.0 L961.4,468.5 L962.7,468.1 L964.0,467.7 L965.4,467.2 L966.8,466.8 L968.3,466.3 L969.8,465.8 L971.2,465.2 L972.7,464.7 L974.2,464.1 L975.6,463.5 L977.1,462.9 L978.6,462.2 L980.1,461.6 L981.6,460.9 L983.1,460.2 L984.6,459.5 L986.1,458.7 L987.7,458.0 L989.2,457.3 L990.7,456.6 L992.2,455.9 L991.1,453.6 L989.6,454.3 L988.1,455.0 L986.6,455.7 L985.0,456.4 L983.5,457.1 L982.0,457.8 L980.5,458.5 L979.0,459.2 L977.5,459.9 L976.1,460.5 L974.6,461.1 L973.2,461.7 L971.8,462.3 L970.4,462.8 L968.9,463.3 L967.5,463.8 L966.0,464.3 L964.6,464.7 L963.2,465.2 L961.9,465.6 L960.5,466.1 L959.3,466.5 L958.0,467.0 L956.9,467.4 L955.8,467.9 L954.8,468.2 L953.9,468.6 L953.0,468.9 L952.2,469.3 L951.4,469.6 L950.6,469.9 L949.8,470.2 L949.0,470.6 L948.2,470.9 L947.3,471.3 L946.4,471.7 L945.4,472.1 L944.5,472.5 L943.5,472.9 L942.5,473.4 L941.5,473.8 L940.5,474.3 L939.5,474.7 L938.5,475.1 L937.5,475.5 L936.5,475.9 L935.5,476.2 L934.5,476.5Z M973.2,464.2 L974.3,464.6 L975.4,465.0 L976.5,465.3 L977.6,465.7 L978.7,466.1 L979.7,466.5 L980.8,466.8 L981.9,467.2 L983.0,467.7 L984.1,468.1 L985.2,468.5 L986.3,468.9 L987.4,469.4 L988.6,469.8 L989.7,470.3 L990.8,470.8 L992.0,471.2 L993.2,471.7 L994.3,472.2 L995.5,472.7 L996.7,473.2 L997.8,473.7 L999.0,474.2 L1000.1,474.6 L1001.1,472.4 L999.9,471.9 L998.7,471.5 L997.6,471.0 L996.4,470.5 L995.2,470.0 L994.1,469.5 L992.9,469.0 L991.8,468.5 L990.6,468.1 L989.5,467.6 L988.3,467.1 L987.2,466.7 L986.1,466.3 L984.9,465.8 L983.8,465.4 L982.7,465.0 L981.7,464.6 L980.6,464.2 L979.5,463.8 L978.4,463.4 L977.4,462.9 L976.3,462.5 L975.2,462.1 L974.2,461.6Z M936.7,475.5 L936.0,475.9 L935.3,476.3 L934.7,476.6 L934.2,477.0 L933.6,477.3 L933.1,477.6 L932.6,477.9 L932.1,478.2 L931.5,478.5 L930.9,478.8 L930.2,479.1 L929.4,479.4 L928.5,479.7 L927.5,480.0 L926.4,480.2 L925.2,480.5 L924.0,480.7 L922.8,480.9 L921.5,481.0 L920.2,481.2 L918.9,481.3 L917.5,481.4 L916.2,481.5 L914.9,481.5 L913.6,481.6 L912.4,481.6 L911.1,481.6 L909.9,481.7 L908.6,481.7 L907.3,481.8 L906.0,481.8 L904.6,481.9 L903.2,481.9 L901.8,482.0 L900.2,482.0 L898.6,482.0 L896.9,482.0 L895.1,482.0 L893.2,482.1 L891.3,482.1 L889.3,482.1 L887.3,482.0 L885.2,482.0 L883.1,482.0 L881.1,482.0 L879.0,482.0 L877.0,482.0 L875.0,482.0 L875.0,484.6 L877.0,484.6 L879.0,484.6 L881.1,484.6 L883.1,484.6 L885.2,484.6 L887.3,484.6 L889.3,484.7 L891.3,484.7 L893.2,484.7 L895.1,484.6 L896.9,484.6 L898.6,484.6 L900.3,484.6 L901.8,484.6 L903.3,484.5 L904.7,484.5 L906.1,484.4 L907.4,484.4 L908.7,484.3 L910.0,484.3 L911.2,484.2 L912.5,484.2 L913.7,484.2 L915.0,484.1 L916.3,484.1 L917.6,484.2 L918.9,484.2 L920.2,484.3 L921.5,484.5 L922.8,484.6 L924.1,484.8 L925.3,484.9 L926.5,485.1 L927.7,485.3 L928.8,485.4 L929.9,485.6 L930.9,485.7 L931.9,485.8 L932.7,485.8 L933.6,485.9 L934.4,485.9 L935.1,485.9 L935.8,486.0 L936.5,486.0 L937.1,486.0 L937.7,486.1 L938.3,486.2 L938.9,486.3Z M938.0,486.4 L938.8,486.2 L939.6,485.9 L940.2,485.6 L940.7,485.4 L941.1,485.2 L941.3,485.0 L941.6,484.8 L941.9,484.6 L942.4,484.4 L943.2,484.2 L944.2,484.0 L945.4,483.9 L947.0,483.8 L948.8,483.8 L950.7,483.9 L952.9,484.1 L955.2,484.4 L957.5,484.8 L959.9,485.3 L962.3,485.9 L964.8,486.4 L967.2,486.9 L969.5,487.4 L971.8,487.9 L974.0,488.3 L976.3,488.6 L978.5,489.0 L980.8,489.3 L983.0,489.7 L985.3,490.0 L987.5,490.3 L989.8,490.6 L992.0,491.0 L994.3,491.3 L996.5,491.6 L998.8,491.9 L999.2,489.4 L996.9,489.0 L994.7,488.7 L992.4,488.4 L990.2,488.1 L987.9,487.8 L985.6,487.4 L983.4,487.1 L981.2,486.8 L978.9,486.4 L976.7,486.1 L974.5,485.7 L972.3,485.3 L970.0,484.9 L967.7,484.4 L965.3,483.9 L962.9,483.3 L960.5,482.8 L958.1,482.1 L955.9,481.4 L953.7,480.7 L951.6,479.9 L949.7,479.2 L948.0,478.5 L946.5,477.8 L945.1,477.3 L943.9,476.9 L942.9,476.5 L941.9,476.3 L941.0,476.1 L940.2,476.1 L939.5,476.0 L939.0,476.0 L938.6,475.9 L938.3,475.8 L938.1,475.6 L937.6,475.4Z M933.3,477.7 L933.0,478.6 L932.6,479.6 L932.3,480.5 L932.0,481.4 L931.7,482.2 L931.4,483.0 L931.1,483.8 L930.8,484.6 L930.4,485.4 L930.0,486.1 L929.6,487.0 L929.1,487.8 L928.5,488.7 L927.9,489.6 L927.2,490.5 L926.4,491.4 L925.6,492.3 L924.8,493.2 L923.9,494.2 L923.0,495.1 L922.0,496.0 L921.1,496.8 L920.1,497.7 L919.0,498.5 L918.0,499.3 L916.9,500.1 L915.7,500.8 L914.5,501.6 L913.3,502.3 L912.0,503.0 L910.8,503.8 L909.5,504.5 L908.3,505.3 L907.0,506.0 L905.7,506.7 L904.5,507.5 L903.2,508.3 L902.0,509.1 L900.8,509.9 L899.7,510.7 L898.5,511.5 L897.3,512.3 L896.2,513.1 L895.0,513.8 L893.8,514.5 L892.6,515.2 L891.3,515.8 L890.0,516.4 L888.6,516.9 L887.2,517.3 L885.8,517.7 L884.2,518.0 L882.7,518.4 L881.1,518.6 L879.5,518.9 L877.9,519.2 L876.3,519.5 L874.7,519.8 L873.0,520.1 L871.4,520.4 L872.0,522.9 L873.5,522.6 L875.1,522.3 L876.7,522.0 L878.3,521.8 L880.0,521.5 L881.6,521.2 L883.2,520.9 L884.8,520.6 L886.4,520.2 L887.9,519.8 L889.5,519.3 L890.9,518.8 L892.4,518.2 L893.7,517.5 L895.1,516.8 L896.3,516.1 L897.6,515.3 L898.8,514.5 L900.0,513.7 L901.2,512.8 L902.3,512.0 L903.5,511.2 L904.7,510.5 L905.8,509.7 L907.1,509.0 L908.3,508.2 L909.6,507.5 L910.8,506.8 L912.1,506.0 L913.4,505.3 L914.6,504.5 L915.9,503.8 L917.1,503.0 L918.3,502.3 L919.5,501.5 L920.6,500.8 L921.8,500.0 L922.9,499.2 L924.0,498.5 L925.2,497.7 L926.3,497.0 L927.3,496.2 L928.4,495.5 L929.5,494.8 L930.5,494.0 L931.5,493.3 L932.5,492.6 L933.4,491.9 L934.4,491.2 L935.2,490.5 L936.1,489.7 L936.8,489.0 L937.6,488.3 L938.3,487.6 L939.0,487.0 L939.6,486.3 L940.3,485.7 L940.9,485.2 L941.6,484.6 L942.3,484.1Z M905.6,507.3 L904.8,507.1 L904.0,506.8 L903.2,506.6 L902.4,506.3 L901.6,506.0 L900.8,505.8 L900.0,505.5 L899.1,505.2 L898.3,505.0 L897.4,504.7 L896.6,504.4 L895.7,504.2 L894.8,503.9 L893.8,503.7 L892.9,503.5 L891.9,503.3 L891.0,503.1 L890.0,502.9 L889.0,502.7 L888.0,502.5 L887.1,502.3 L886.1,502.1 L885.1,501.9 L884.2,501.7 L883.7,504.1 L884.7,504.3 L885.6,504.5 L886.6,504.7 L887.6,504.9 L888.6,505.1 L889.5,505.2 L890.5,505.4 L891.4,505.6 L892.4,505.8 L893.3,506.1 L894.2,506.3 L895.1,506.5 L895.9,506.7 L896.7,507.0 L897.6,507.2 L898.4,507.5 L899.2,507.8 L900.0,508.1 L900.8,508.4 L901.5,508.7 L902.3,509.0 L903.1,509.3 L903.9,509.6 L904.7,509.9Z M933.8,484.6 L934.7,485.2 L935.6,485.7 L936.5,486.2 L937.4,486.7 L938.3,487.3 L939.1,487.8 L940.0,488.3 L940.8,488.9 L941.6,489.4 L942.5,490.0 L943.3,490.7 L944.1,491.4 L944.8,492.1 L945.6,492.8 L946.3,493.5 L947.0,494.4 L947.7,495.2 L948.4,496.1 L949.1,497.0 L949.9,497.9 L950.6,498.9 L951.4,499.9 L952.2,501.0 L953.1,502.1 L954.0,503.2 L954.9,504.4 L955.9,505.6 L956.9,506.9 L957.9,508.3 L959.0,509.6 L960.1,510.9 L961.3,512.2 L962.5,513.5 L963.8,514.7 L965.0,515.9 L966.4,517.0 L967.8,518.0 L969.2,518.9 L970.7,519.7 L972.2,520.5 L973.7,521.3 L975.3,522.0 L976.9,522.7 L978.4,523.3 L980.0,524.0 L981.5,524.7 L983.0,525.4 L984.5,526.1 L985.7,523.8 L984.1,523.0 L982.6,522.3 L981.0,521.6 L979.5,520.9 L977.9,520.3 L976.4,519.6 L974.8,518.9 L973.4,518.2 L971.9,517.5 L970.5,516.7 L969.2,515.8 L967.9,514.9 L966.7,513.9 L965.5,512.8 L964.4,511.7 L963.2,510.5 L962.1,509.2 L961.0,507.9 L960.0,506.6 L958.9,505.3 L957.9,504.0 L957.0,502.8 L956.0,501.6 L955.1,500.5 L954.3,499.4 L953.5,498.4 L952.8,497.3 L952.2,496.3 L951.6,495.3 L951.0,494.3 L950.5,493.3 L950.0,492.3 L949.5,491.3 L948.9,490.3 L948.4,489.3 L947.8,488.3 L947.3,487.3 L946.7,486.4 L946.2,485.4 L945.6,484.5 L945.1,483.6 L944.6,482.6 L944.1,481.7 L943.6,480.8 L943.1,479.9 L942.7,479.0 L942.3,478.1 L941.8,477.2Z M967.7,517.2 L968.3,516.9 L969.0,516.6 L969.7,516.3 L970.3,516.0 L971.0,515.8 L971.7,515.5 L972.4,515.2 L973.0,514.9 L973.7,514.7 L974.4,514.4 L975.1,514.1 L975.8,513.8 L976.5,513.5 L977.2,513.1 L977.9,512.8 L978.6,512.5 L979.3,512.1 L979.9,511.8 L980.6,511.4 L981.3,511.1 L982.0,510.7 L982.7,510.4 L983.3,510.0 L984.0,509.7 L982.9,507.5 L982.3,507.9 L981.6,508.2 L980.9,508.6 L980.2,508.9 L979.5,509.3 L978.8,509.6 L978.2,510.0 L977.5,510.3 L976.8,510.6 L976.2,511.0 L975.5,511.3 L974.8,511.6 L974.2,511.9 L973.5,512.2 L972.8,512.4 L972.2,512.7 L971.5,513.0 L970.8,513.2 L970.1,513.5 L969.4,513.7 L968.7,514.0 L968.0,514.2 L967.3,514.4 L966.6,514.6Z M926.3,480.9 A11.5,11.5 0 1 0 949.3,480.9 A11.5,11.5 0 1 0 926.3,480.9Z " fill="#f6c8f6"/>
<circle cx="937.8" cy="480.9" r="7.1" fill="#613a97" stroke="#2e2058" stroke-width="1.6"/>
<g fill="#23233a" stroke="#23233a" stroke-width="0.8" stroke-linejoin="round" stroke-linecap="round" font-family="Liberation Sans, sans-serif">
<text transform="translate(428.7,87.1) scale(0.743,1)" font-size="11.8" textLength="99.4" lengthAdjust="spacing" font-weight="normal">PLURIPOTENT</text>
<text transform="translate(516.2,86.2) scale(0.782,1)" font-size="11.3" textLength="121.1" lengthAdjust="spacing" font-weight="normal">HAEMATOPOIETIC</text>
<text transform="translate(475.2,100.4) scale(0.878,1)" font-size="11.8" textLength="37.8" lengthAdjust="spacing" font-weight="normal">STEM</text>
<text transform="translate(517.2,100.0) scale(0.824,1)" font-size="11.3" textLength="33.1" lengthAdjust="spacing" font-weight="normal">CELL</text>
<text transform="translate(228.6,222.6) scale(1.000,1)" font-size="11.2" textLength="60.5" lengthAdjust="spacing" font-weight="normal">MYELOID</text>
<text transform="translate(218.7,239.0) scale(0.877,1)" font-size="12.0" textLength="38.2" lengthAdjust="spacing" font-weight="normal">STEM</text>
<text transform="translate(259.1,239.0) scale(0.845,1)" font-size="12.0" textLength="34.9" lengthAdjust="spacing" font-weight="normal">CELL</text>
<text transform="translate(665.1,233.7) scale(0.991,1)" font-size="14.1" textLength="86.6" lengthAdjust="spacing" font-weight="normal">LYMPHOID</text>
<text transform="translate(658.1,251.2) scale(0.917,1)" font-size="14.1" textLength="45.2" lengthAdjust="spacing" font-weight="normal">STEM</text>
<text transform="translate(707.5,251.2) scale(0.866,1)" font-size="14.1" textLength="41.3" lengthAdjust="spacing" font-weight="normal">CELL</text>
<text transform="translate(328.0,348.6) scale(0.797,1)" font-size="14.5" textLength="114.9" lengthAdjust="spacing" font-weight="normal">MYELOBLAST</text>
<text transform="translate(452.2,447.4) scale(0.962,1)" font-size="11.3" textLength="76.7" lengthAdjust="spacing" font-weight="normal">MONOCYTE</text>
<text transform="translate(17.2,449.6) scale(0.824,1)" font-size="13.0" textLength="140.5" lengthAdjust="spacing" font-weight="normal">MEGAKARYOCYTE</text>
<text transform="translate(143.0,438.4) scale(0.670,1)" font-size="15.2" textLength="135.9" lengthAdjust="spacing" font-weight="normal">ERYTHROCYTE</text>
<text transform="translate(40.7,538.9) scale(0.671,1)" font-size="14.6" textLength="98.1" lengthAdjust="spacing" font-weight="normal">PLATELETS</text>
<text transform="translate(160.4,526.2) scale(1.000,1)" font-size="10.6" textLength="27.8" lengthAdjust="spacing" font-weight="normal">RED</text>
<text transform="translate(142.8,537.9) scale(0.730,1)" font-size="11.2" textLength="45.6" lengthAdjust="spacing" font-weight="normal">BLOOD</text>
<text transform="translate(178.9,537.9) scale(0.967,1)" font-size="10.1" textLength="29.6" lengthAdjust="spacing" font-weight="normal">CELL</text>
<text transform="translate(226.8,537.4) scale(0.782,1)" font-size="12.1" textLength="72.2" lengthAdjust="spacing" font-weight="normal">BASOPHIL</text>
<text transform="translate(296.8,537.4) scale(0.786,1)" font-size="10.6" textLength="81.4" lengthAdjust="spacing" font-weight="normal">NEUTROPHIL</text>
<text transform="translate(370.5,537.4) scale(0.789,1)" font-size="12.1" textLength="89.0" lengthAdjust="spacing" font-weight="normal">EOSINOPHIL</text>
<text transform="translate(449.7,549.6) scale(0.723,1)" font-size="13.9" textLength="117.8" lengthAdjust="spacing" font-weight="normal">MACROPHAGE</text>
<text transform="translate(589.1,542.0) scale(0.828,1)" font-size="13.8" textLength="9.2" lengthAdjust="spacing" font-weight="normal">B</text>
<text transform="translate(607.1,540.8) scale(1.000,1)" font-size="11.3" textLength="39.6" lengthAdjust="spacing" font-weight="normal">CELL</text>
<text transform="translate(682.1,542.6) scale(1.000,1)" font-size="9.8" textLength="9.1" lengthAdjust="spacing" font-weight="normal">T</text>
<text transform="translate(697.7,542.6) scale(1.000,1)" font-size="10.7" textLength="31.8" lengthAdjust="spacing" font-weight="normal">CELL</text>
<text transform="translate(758.5,537.4) scale(1.000,1)" font-size="10.6" textLength="68.5" lengthAdjust="spacing" font-weight="normal">NATURAL</text>
<text transform="translate(760.0,550.6) scale(1.000,1)" font-size="11.5" textLength="55.5" lengthAdjust="spacing" font-weight="normal">KILLER</text>
<text transform="translate(768.5,563.6) scale(1.000,1)" font-size="12.1" textLength="38.0" lengthAdjust="spacing" font-weight="normal">CELL</text>
<text transform="translate(875.4,542.9) scale(0.898,1)" font-size="13.3" textLength="87.2" lengthAdjust="spacing" font-weight="normal">DENDRITIC</text>
<text transform="translate(962.9,542.2) scale(1.000,1)" font-size="11.6" textLength="34.6" lengthAdjust="spacing" font-weight="normal">CELL</text>
</g>
</svg>
</body></html>
